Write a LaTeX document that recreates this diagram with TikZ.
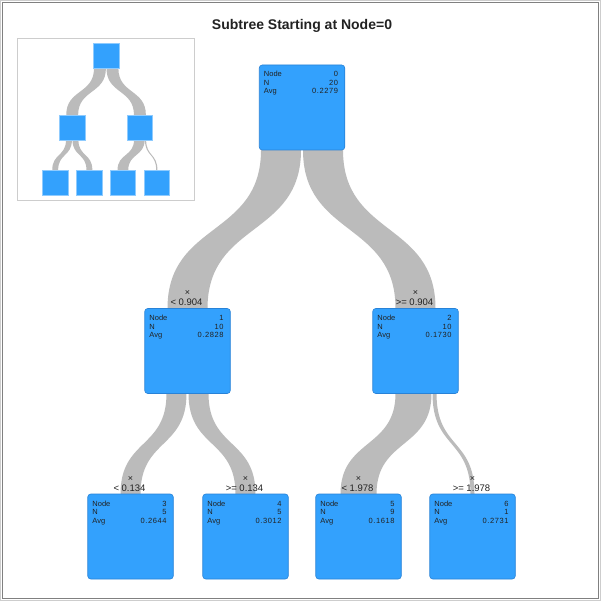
\documentclass[tikz,border=0pt]{standalone}
\usepackage{fontspec}
\setmainfont{Liberation Sans}
\newfontfamily\valfont[LetterSpace=8]{Liberation Sans}
\usetikzlibrary{calc,backgrounds}
\definecolor{nodeblue}{RGB}{51,161,253}
\definecolor{nodeedge}{RGB}{40,130,215}
\definecolor{bandgray}{RGB}{187,187,187}
\definecolor{insetg}{RGB}{205,205,205}
\definecolor{txtdark}{RGB}{34,34,34}
\tikzset{
  treebox/.style={rectangle, rounded corners=3pt, fill=nodeblue, draw=nodeedge, line width=0.6pt,
    minimum width=85.5pt, minimum height=85pt, inner sep=0pt, outer sep=0pt},
  minibox/.style={rectangle, fill=nodeblue, draw=nodeblue!55!white, line width=0.5pt,
    minimum width=25.5pt, minimum height=25pt, inner sep=0pt, outer sep=0pt},
  infotxt/.style={font=\fontsize{7.5}{8}\selectfont, text=txtdark, inner sep=0pt},
  splittxt/.style={font=\fontsize{9.5}{10}\selectfont, text=txtdark, inner sep=0pt, anchor=base},
  crosstxt/.style={font=\fontsize{9}{9}\selectfont, text=txtdark, inner sep=0pt},
  titletxt/.style={font=\fontsize{14}{16}\selectfont\bfseries, text=txtdark, inner sep=0pt, anchor=base},
}
% band from parent #1 to child #2: top offsets #3..#4 from parent south, width #5 at child north
\newcommand\flowband[5]{%
  \path ($(#1.south)+(#3,0)$) coordinate (fbtl) ($(#1.south)+(#4,0)$) coordinate (fbtr)
        ($(#2.north)+({-(#5)/2},0)$) coordinate (fbbl) ($(#2.north)+({(#5)/2},0)$) coordinate (fbbr);
  \path ($(fbtl)!0.55!(fbbl)$) coordinate (fbma) ($(fbtl)!0.45!(fbbl)$) coordinate (fbmb);
  \fill[bandgray] (fbtl) .. controls (fbtl |- fbma) and (fbbl |- fbmb) .. (fbbl)
     -- (fbbr) .. controls (fbbr |- fbmb) and (fbtr |- fbma) .. (fbtr) -- cycle;}
\newcommand\infotext[4]{%
  \node[infotxt, anchor=base west] (#1-la) at ($(#1.north west)+(4.5,12)$) {Node};
  \node[infotxt, anchor=base east] (#1-va) at ($(#1.north east)+(-6.5,12)$) {\valfont #2};
  \node[infotxt, anchor=base west] (#1-lb) at ($(#1.north west)+(4.5,20.5)$) {N};
  \node[infotxt, anchor=base east] (#1-vb) at ($(#1.north east)+(-6.5,20.5)$) {\valfont #3};
  \node[infotxt, anchor=base west] (#1-lc) at ($(#1.north west)+(4.5,29)$) {Avg};
  \node[infotxt, anchor=base east] (#1-vc) at ($(#1.north east)+(-6.5,29)$) {\valfont #4};}
\newcommand\splitlabel[2]{%
  \node[crosstxt] (#1-x) at ($(#1.north)+(0,-15.5)$) {×};
  \node[splittxt] (#1-s) at ($(#1.north)+(-1,-3)$) {#2};}
\begin{document}
\begin{tikzpicture}[x=1pt,y=-1pt]
\useasboundingbox (0,0) rectangle (601,601);

\node[titletxt] (title) at (302,29.5) {Subtree Starting at Node=0};

% main tree
\node[treebox] (n0) at (302,107.5) {};
\node[treebox] (n1) at (187.5,351) {};
\node[treebox] (n2) at (415.5,351) {};
\node[treebox] (n3) at (130.5,536.5) {};
\node[treebox] (n4) at (245.5,536.5) {};
\node[treebox] (n5) at (358.5,536.5) {};
\node[treebox] (n6) at (472.5,536.5) {};

% overview inset
\node[minibox] (m0) at (106.2,55.9) {};
\node[minibox] (m1) at (72.2,127.4) {};
\node[minibox] (m2) at (139.9,127.4) {};
\node[minibox] (m3) at (55.2,182.5) {};
\node[minibox] (m4) at (89.4,182.5) {};
\node[minibox] (m5) at (122.9,182.5) {};
\node[minibox] (m6) at (156.8,182.5) {};

\begin{pgfonlayer}{background}
\fill[white] (0,0) rectangle (601,601);
\draw[insetg, line width=1pt] (0.5,0.5) rectangle (600.5,600.5);
\draw[gray, line width=1pt] (2.5,2.5) rectangle (598.5,598.5);
\draw[insetg, line width=0.8pt] (17,38) rectangle (194,200);
\flowband{n0}{n1}{-41}{-1}{40}
\flowband{n0}{n2}{1}{41}{40}
\flowband{n1}{n3}{-21}{-1}{20}
\flowband{n1}{n4}{1}{21}{20}
\flowband{n2}{n5}{-20}{16}{36}
\flowband{n2}{n6}{17}{21}{4}
\flowband{m0}{m1}{-12.2}{-0.3}{11.9}
\flowband{m0}{m2}{0.3}{12.2}{11.9}
\flowband{m1}{m3}{-6.2}{-0.3}{5.9}
\flowband{m1}{m4}{0.3}{6.2}{5.9}
\flowband{m2}{m5}{-5.9}{4.75}{10.7}
\flowband{m2}{m6}{5.05}{6.25}{1.2}
\end{pgfonlayer}

\infotext{n0}{0}{20}{0.2279}
\infotext{n1}{1}{10}{0.2828}
\infotext{n2}{2}{10}{0.1730}
\infotext{n3}{3}{5}{0.2644}
\infotext{n4}{4}{5}{0.3012}
\infotext{n5}{5}{9}{0.1618}
\infotext{n6}{6}{1}{0.2731}

\splitlabel{n1}{< 0.904}
\splitlabel{n2}{>= 0.904}
\splitlabel{n3}{< 0.134}
\splitlabel{n4}{>= 0.134}
\splitlabel{n5}{< 1.978}
\splitlabel{n6}{>= 1.978}
\end{tikzpicture}
\end{document}
